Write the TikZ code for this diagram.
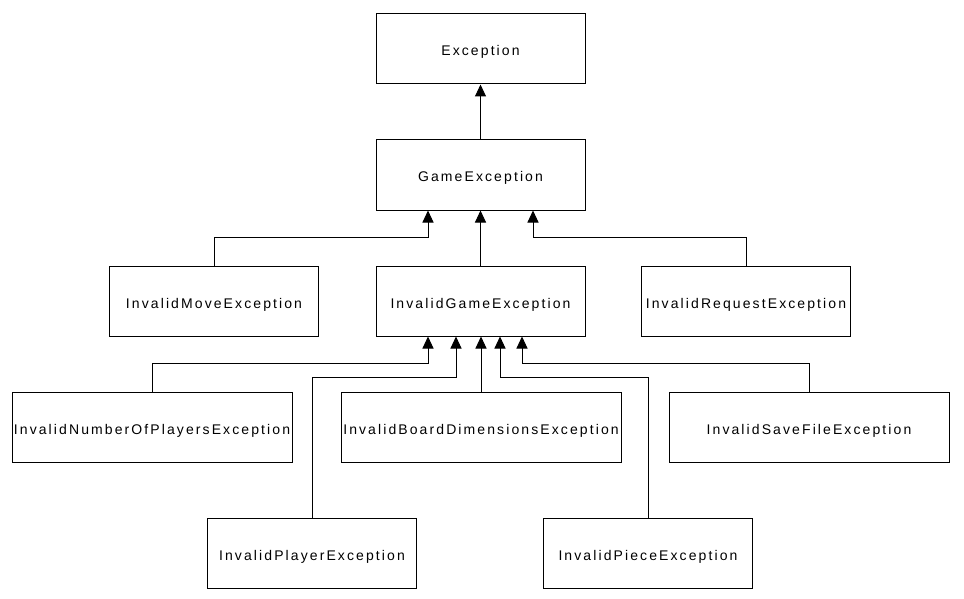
\documentclass[tikz,border=0pt]{standalone}
\usepackage{fontspec}
\setmainfont{Liberation Sans}[LetterSpace=15]
\usetikzlibrary{arrows.meta}
\begin{document}
\begin{tikzpicture}[x=1pt,y=-1pt,
  cls/.style={draw=black,line width=1pt,rectangle,minimum height=70pt,inner sep=0pt,text height=14pt,text depth=0pt,font=\fontsize{14pt}{16pt}\selectfont},
  narrow/.style={cls,minimum width=209pt},
  wide/.style={cls,minimum width=280pt},
  arr/.style={draw=black,line width=1pt,-{Triangle[length=12pt,width=11pt]}}]
\useasboundingbox (0,0) rectangle (964,599);
\node[narrow] (ex) at (480.5,49) {Exception};
\node[narrow] (ge) at (480.5,175) {GameException};
\node[narrow] (im) at (214,301) {InvalidMoveException};
\node[narrow] (ig) at (480.5,301) {InvalidGameException};
\node[narrow] (ir) at (746,301) {InvalidRequestException};
\node[wide] (np) at (152,427) {InvalidNumberOfPlayersException};
\node[wide] (bd) at (481,427) {InvalidBoardDimensionsException};
\node[wide] (sf) at (809,427) {InvalidSaveFileException};
\node[narrow] (pl) at (312,553) {InvalidPlayerException};
\node[narrow] (pc) at (648,553) {InvalidPieceException};
\draw[arr] (ge.north) -- (ex.south);
\draw[arr] (ig.north) -- (ge.south);
\draw[arr] (im.north) -- ++(0,-28) -| ([xshift=-52.5pt]ge.south);
\draw[arr] (ir.north) -- ++(0,-28) -| ([xshift=52.5pt]ge.south);
\draw[arr] (bd.north) -- (bd.north |- ig.south);
\draw[arr] (np.north) -- ++(0,-28) -| ([xshift=-52.5pt]ig.south);
\draw[arr] (pl.north) -- ++(0,-140) -| ([xshift=-24.5pt]ig.south);
\draw[arr] (pc.north) -- ++(0,-140) -| ([xshift=19.5pt]ig.south);
\draw[arr] (sf.north) -- ++(0,-28) -| ([xshift=41.5pt]ig.south);
\end{tikzpicture}
\end{document}
